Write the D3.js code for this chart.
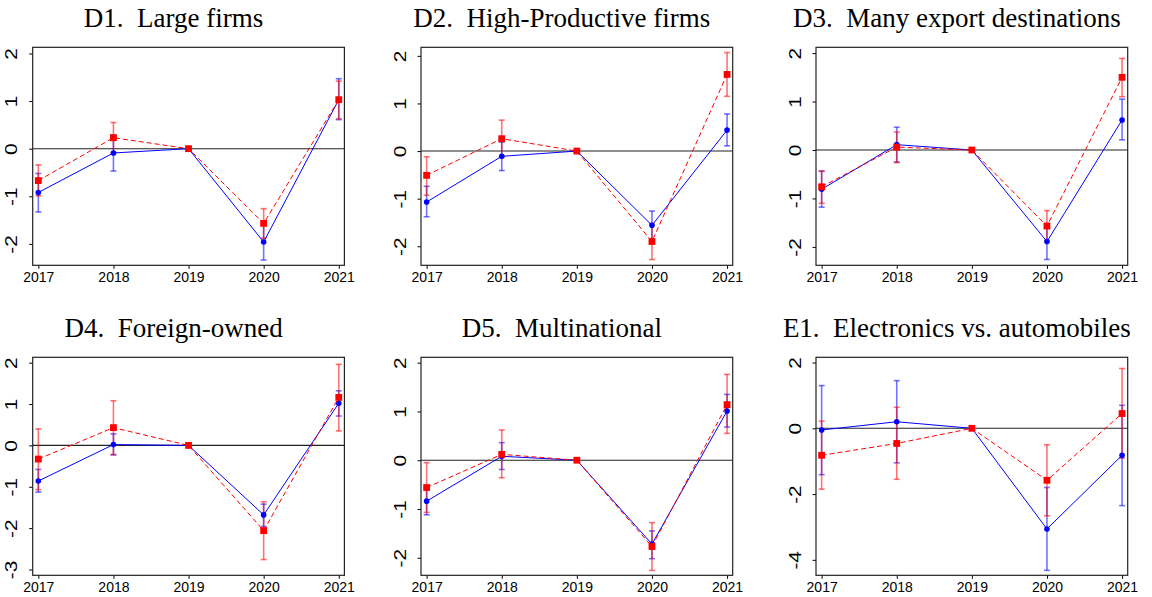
<!DOCTYPE html>
<html>
<head>
<meta charset="utf-8">
<script src="https://cdn.jsdelivr.net/npm/d3@7"></script>
<style>
  html, body { margin: 0; padding: 0; background: #fff; }
  svg { display: block; }
</style>
</head>
<body>
<svg id="chart" width="1152" height="597"></svg>
<script>
// Event-study coefficients with 95% confidence intervals, 2019 = reference year.
const years = [2017, 2018, 2019, 2020, 2021];

const panelTitles = [
  "D1.  Large firms",
  "D2.  High-Productive firms",
  "D3.  Many export destinations",
  "D4.  Foreign-owned",
  "D5.  Multinational",
  "E1.  Electronics vs. automobiles"
];

// Blue series (solid line, circles)
const blueCoef = [
  [-0.92, -0.09, 0, -1.96, 1.03],
  [-1.07, -0.11, 0, -1.56, 0.44],
  [-0.81,  0.11, 0, -1.89, 0.62],
  [-0.86,  0.02, 0, -1.68, 1.02],
  [-0.84,  0.08, 0, -1.72, 1.01],
  [-0.05,  0.20, 0, -3.06, -0.82]
];
const blueLo = [
  [-1.33, -0.47, 0, -2.34, 0.61],
  [-1.38, -0.41, 0, -1.87, 0.11],
  [-1.18, -0.25, 0, -2.26, 0.21],
  [-1.13, -0.23, 0, -1.96, 0.71],
  [-1.12, -0.19, 0, -2.02, 0.68],
  [-1.41, -1.05, 0, -4.32, -2.35]
];
const blueHi = [
  [-0.52, 0.29, 0, -1.58, 1.47],
  [-0.74, 0.19, 0, -1.26, 0.78],
  [-0.44, 0.47, 0, -1.52, 1.05],
  [-0.58, 0.28, 0, -1.42, 1.32],
  [-0.55, 0.36, 0, -1.45, 1.35],
  [ 1.30, 1.45, 0, -1.80, 0.70]
];

// Red series (dashed line, squares)
const redCoef = [
  [-0.67, 0.23, 0, -1.57, 1.03],
  [-0.51, 0.26, 0, -1.90, 1.61],
  [-0.76, 0.06, 0, -1.57, 1.50],
  [-0.33, 0.43, 0, -2.06, 1.16],
  [-0.56, 0.12, 0, -1.77, 1.14],
  [-0.82, -0.46, 0, -1.58, 0.45]
];
const redLo = [
  [-0.99, -0.09, 0, -1.88, 0.63],
  [-0.93, -0.13, 0, -2.28, 1.15],
  [-1.10, -0.26, 0, -1.89, 1.10],
  [-1.07, -0.22, 0, -2.76, 0.35],
  [-1.07, -0.36, 0, -2.26, 0.55],
  [-1.85, -1.55, 0, -2.66, -0.91]
];
const redHi = [
  [-0.34, 0.55, 0, -1.26, 1.42],
  [-0.12, 0.65, 0, -1.52, 2.07],
  [-0.43, 0.37, 0, -1.25, 1.89],
  [ 0.40, 1.08, 0, -1.36, 1.96],
  [-0.05, 0.62, 0, -1.28, 1.76],
  [ 0.22, 0.64, 0, -0.50, 1.82]
];

// Y-axis ranges and tick values for each panel
const yRanges = [
  [-2.45, 2.13],
  [-2.40, 2.18],
  [-2.38, 2.12],
  [-3.14, 2.13],
  [-2.36, 2.11],
  [-4.47, 2.16]
];
const yTicks = [
  [-2, -1, 0, 1, 2],
  [-2, -1, 0, 1, 2],
  [-2, -1, 0, 1, 2],
  [-3, -2, -1, 0, 1, 2],
  [-2, -1, 0, 1, 2],
  [-4, -2, 0, 2]
];

// ---- layout ----
const colLeft = [32.7, 421, 816];
const rowTop = [47.3, 357.3];
const plotW = 311.7;
const plotH = 218;
const BLUE = "#0000ff";
const RED = "#ff0000";

const svg = d3.select("#chart");

panelTitles.forEach((title, i) => {
  const left = colLeft[i % 3];
  const top = rowTop[Math.floor(i / 3)];

  const x = d3.scaleLinear()
    .domain([years[0] - 0.075, years[years.length - 1] + 0.075])
    .range([left, left + plotW]);
  const y = d3.scaleLinear()
    .domain(yRanges[i])
    .range([top + plotH, top]);

  const g = svg.append("g");

  // title
  g.append("text")
    .attr("x", left + plotW / 2 - 15)
    .attr("y", top - 20.5)
    .attr("text-anchor", "middle")
    .attr("font-family", "'Liberation Serif', 'Times New Roman', serif")
    .attr("font-size", 27)
    .attr("fill", "#000")
    .style("white-space", "pre")
    .text(title);

  // x axis
  const xAxis = d3.axisBottom(x)
    .tickValues(years)
    .tickFormat(d3.format("d"))
    .tickSize(3.5)
    .tickPadding(3);
  const xg = g.append("g")
    .attr("transform", `translate(0,${top + plotH})`)
    .call(xAxis);
  xg.select(".domain").remove();
  xg.selectAll("line").attr("stroke", "#000").attr("stroke-width", 1);
  xg.selectAll("text")
    .attr("font-family", "'Liberation Sans', Arial, sans-serif")
    .attr("font-size", 14)
    .attr("fill", "#000");

  // y axis with rotated labels
  const yAxis = d3.axisLeft(y)
    .tickValues(yTicks[i])
    .tickFormat(d => String(d))
    .tickSize(3.5)
    .tickPadding(0);
  const yg = g.append("g")
    .attr("transform", `translate(${left},0)`)
    .call(yAxis);
  yg.select(".domain").remove();
  yg.selectAll("line").attr("stroke", "#000").attr("stroke-width", 1);
  yg.selectAll("text")
    .attr("font-family", "'Liberation Sans', Arial, sans-serif")
    .attr("font-size", 16)
    .attr("fill", "#000")
    .attr("x", null)
    .attr("dy", null)
    .attr("text-anchor", "middle")
    .attr("transform", "translate(-15.5,0) rotate(-90) scale(1.3,1)");

  // zero reference line
  g.append("line")
    .attr("x1", left).attr("x2", left + plotW)
    .attr("y1", y(0)).attr("y2", y(0))
    .attr("stroke", "#222").attr("stroke-width", 1.1);

  const series = [
    { coef: blueCoef[i], lo: blueLo[i], hi: blueHi[i], color: BLUE, dash: null, shape: "circle" },
    { coef: redCoef[i], lo: redLo[i], hi: redHi[i], color: RED, dash: "5,3", shape: "square" }
  ];

  // confidence intervals
  series.forEach(s => {
    const ci = g.append("g").attr("stroke", s.color).attr("stroke-opacity", 0.55).attr("stroke-width", 1.6);
    years.forEach((yr, k) => {
      if (s.lo[k] === s.hi[k]) return;
      ci.append("line")
        .attr("x1", x(yr)).attr("x2", x(yr))
        .attr("y1", y(s.lo[k])).attr("y2", y(s.hi[k]));
      [s.lo[k], s.hi[k]].forEach(v => {
        ci.append("line")
          .attr("x1", x(yr) - 3).attr("x2", x(yr) + 3)
          .attr("y1", y(v)).attr("y2", y(v));
      });
    });
  });

  // connecting lines and markers
  series.forEach(s => {
    const line = d3.line().x((d, k) => x(years[k])).y(d => y(d));
    g.append("path")
      .datum(s.coef)
      .attr("d", line)
      .attr("fill", "none")
      .attr("stroke", s.color)
      .attr("stroke-width", 1)
      .attr("stroke-dasharray", s.dash);
    years.forEach((yr, k) => {
      if (s.shape === "circle") {
        g.append("circle")
          .attr("cx", x(yr)).attr("cy", y(s.coef[k]))
          .attr("r", 2.8)
          .attr("fill", s.color);
      } else {
        g.append("rect")
          .attr("x", x(yr) - 3.4).attr("y", y(s.coef[k]) - 3.4)
          .attr("width", 6.8).attr("height", 6.8)
          .attr("fill", s.color);
      }
    });
  });

  // plot frame
  g.append("rect")
    .attr("x", left).attr("y", top)
    .attr("width", plotW).attr("height", plotH)
    .attr("fill", "none")
    .attr("stroke", "#222")
    .attr("stroke-width", 1.2);
});
</script>
</body>
</html>
